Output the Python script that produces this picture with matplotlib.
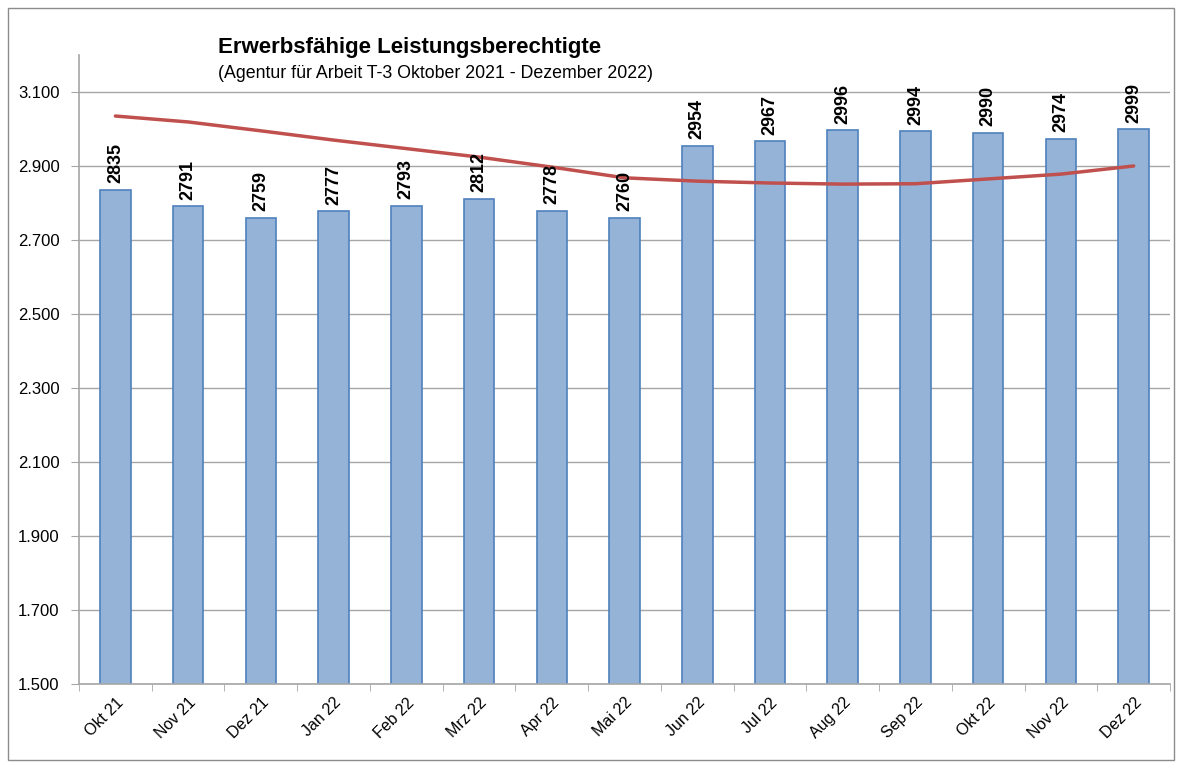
import matplotlib
matplotlib.use("Agg")
import matplotlib.pyplot as plt
from matplotlib.patches import Rectangle

plt.rcParams['font.family'] = ['Liberation Sans', 'DejaVu Sans']

months = ["Okt 21", "Nov 21", "Dez 21", "Jan 22", "Feb 22", "Mrz 22", "Apr 22", "Mai 22",
          "Jun 22", "Jul 22", "Aug 22", "Sep 22", "Okt 22", "Nov 22", "Dez 22"]
values = [2835, 2791, 2759, 2777, 2793, 2812, 2778, 2760,
          2954, 2967, 2996, 2994, 2990, 2974, 2999]
# trend line
trend = [3035, 3019, 2995, 2970, 2947, 2924, 2897, 2868,
         2859, 2854, 2851, 2852, 2865, 2878, 2900]
yticks = [1500, 1700, 1900, 2100, 2300, 2500, 2700, 2900, 3100]

fig = plt.figure(figsize=(11.81, 7.70), dpi=100)
ax = fig.add_axes([0.0669, 0.1117, 0.9238, 0.8169])

x = list(range(len(months)))
ax.bar(x, values, width=0.42, color="#95B3D7", edgecolor="#4F81BD", linewidth=1.2, zorder=2)
ax.plot(x, trend, color="#C0504D", linewidth=2.5, zorder=3, solid_capstyle="round")

for xi, v in zip(x, values):
    ax.text(xi, v + 18, str(v), rotation=90, ha="center", va="bottom",
            fontsize=13, fontweight="bold", zorder=4)

ax.set_xlim(-0.5, len(months) - 0.5)
ax.set_ylim(1500, 3200)
ax.set_yticks(yticks)
ax.set_yticklabels(["{:,}".format(t).replace(",", ".") for t in yticks], fontsize=12)
ax.yaxis.grid(True, color="#A6A6A6", linewidth=1, zorder=0)
ax.set_axisbelow(True)

ax.set_xticks(x)
ax.set_xticklabels(months, rotation=45, ha="right", rotation_mode="anchor", fontsize=11.5)
ax.tick_params(axis="x", length=0, pad=8)
ax.set_xticks([i - 0.5 for i in range(len(months) + 1)], minor=True)
ax.tick_params(axis="x", which="minor", length=5, color="#A6A6A6", direction="out")
ax.tick_params(axis="y", length=6, color="#A6A6A6", pad=8)

for s in ["top", "right"]:
    ax.spines[s].set_visible(False)
for s in ["left", "bottom"]:
    ax.spines[s].set_color("#A6A6A6")
    ax.spines[s].set_linewidth(1.2)

fig.text(218 / 1181, 1 - 48 / 770, "Erwerbsfähige Leistungsberechtigte",
         fontsize=16, fontweight="bold", va="center")
fig.text(218 / 1181, 1 - 74 / 770, "(Agentur für Arbeit T-3 Oktober 2021 - Dezember 2022)",
         fontsize=12.8, va="center")

fig.patches.append(Rectangle((8 / 1181, 10 / 770), 1166 / 1181, 752 / 770,
                             transform=fig.transFigure, fill=False,
                             edgecolor="#8C8C8C", linewidth=1))

fig.savefig("out.png", dpi=100)
